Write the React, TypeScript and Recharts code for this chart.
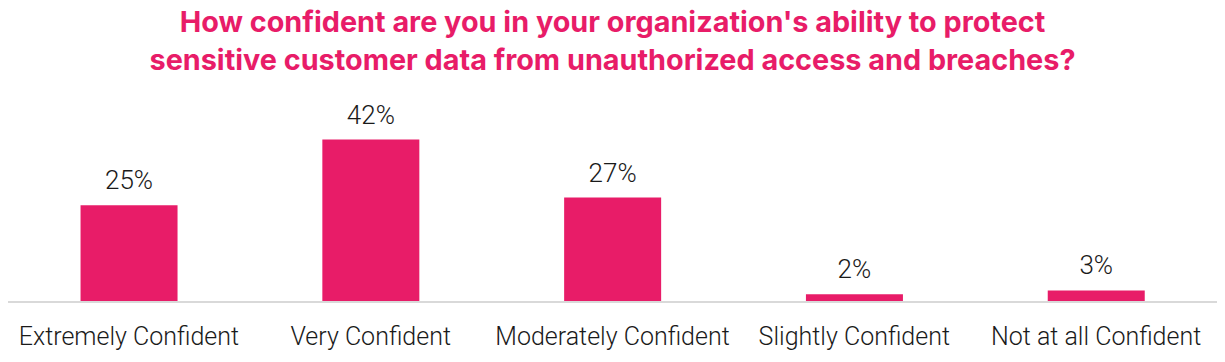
import { BarChart, Bar, XAxis, YAxis, LabelList } from "recharts";

const PINK = "#E81C68";

const categories = [
  "Extremely Confident",
  "Very Confident",
  "Moderately Confident",
  "Slightly Confident",
  "Not at all Confident",
];
const shares = [25, 42, 27, 2, 3];

const TITLE_1 = "How confident are you in your organization's ability to protect";
const TITLE_2 = "sensitive customer data from unauthorized access and breaches?";

const chartData = categories.map((name, i) => ({ name, value: shares[i] }));

export default function App() {
  return (
    <div
      style={{
        position: "absolute",
        left: 0,
        top: 0,
        width: 1225,
        height: 362,
        background: "#fff",
        fontFamily: "Roboto, sans-serif",
      }}
    >
      <div
        style={{
          height: 82,
          color: PINK,
          fontFamily: "Inter, sans-serif",
          fontWeight: 700,
          fontSize: 28.8,
          lineHeight: "38px",
          textAlign: "center",
          paddingTop: 3,
          boxSizing: "border-box",
          whiteSpace: "nowrap",
        }}
      >
        <div>{TITLE_1}</div>
        <div>{TITLE_2}</div>
      </div>
      <BarChart
        width={1225}
        height={280}
        data={chartData}
        margin={{ top: 46, right: 8, bottom: 0, left: 8 }}
        barCategoryGap="30%"
      >
        <XAxis
          dataKey="name"
          axisLine={{ stroke: "#D9D9D9", strokeWidth: 2 }}
          tickLine={false}
          tickMargin={19}
          height={60}
          interval={0}
          tick={{ fill: "#1a1a1a", fontSize: 25, fontWeight: 300 }}
        />
        <YAxis hide domain={[0, 45]} />
        <Bar dataKey="value" fill={PINK} isAnimationActive={false}>
          <LabelList
            dataKey="value"
            position="top"
            offset={16}
            formatter={(v: number) => `${v}%`}
            style={{ fill: "#1a1a1a", fontSize: 26, fontWeight: 300 }}
          />
        </Bar>
      </BarChart>
    </div>
  );
}
